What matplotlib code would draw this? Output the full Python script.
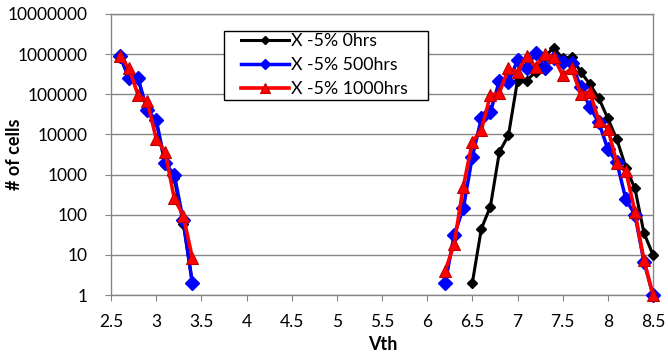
import numpy as np
import matplotlib

matplotlib.use("Agg")
import matplotlib.pyplot as plt
from matplotlib.patches import Rectangle
from matplotlib.ticker import FixedLocator, FixedFormatter, NullLocator

plt.rcParams["font.family"] = ["Lato", "DejaVu Sans"]

# Vth bins (two clusters, gap in between)
vth_left = [2.6, 2.7, 2.8, 2.9, 3.0, 3.1, 3.2, 3.3, 3.4]
vth_right = [6.2, 6.3, 6.4, 6.5, 6.6, 6.7, 6.8, 6.9, 7.0, 7.1, 7.2, 7.3,
             7.4, 7.5, 7.6, 7.7, 7.8, 7.9, 8.0, 8.1, 8.2, 8.3, 8.4, 8.5]
vth_right_0h = vth_right[3:]

# cell counts
cells_0h_left = [9e5, 2.4e5, 2.4e5, 3.8e4, 2.2e4, 1.7e3, 800, 60, 2]
cells_0h_right = [2, 45, 160, 3.7e3, 9.5e3, 2.2e5, 2.2e5, 3.6e5, 8.5e5,
                  1.45e6, 7.8e5, 8.5e5, 3.6e5, 1.8e5, 8e4, 2.5e4, 7.5e3,
                  1.5e3, 450, 35, 10]

cells_500h_left = [9e5, 2.5e5, 2.5e5, 4e4, 2.3e4, 1.9e3, 1e3, 72, 2]
cells_500h_right = [2, 32, 144, 2.8e3, 2.5e4, 3.6e4, 2.2e5, 2e5, 7e5, 4.4e5,
                    1.05e6, 4.6e5, 8e5, 6.5e5, 6e5, 1.5e5, 4.8e4, 2e4, 4.3e3,
                    2e3, 240, 100, 6.7, 1]

cells_1000h_left = [9e5, 4.4e5, 9.5e4, 6.8e4, 7.9e3, 3.6e3, 255, 95, 8.5]
cells_1000h_right = [4, 19, 500, 6.5e3, 1.3e4, 9.5e4, 1.1e5, 4.4e5, 3.6e5,
                     9e5, 4.8e5, 1e6, 8.5e5, 3e5, 4.4e5, 1e5, 1.15e5, 2.2e4,
                     1.4e4, 1.9e3, 1.2e3, 118, 7.4, 1]

labels = ["X -5% 0hrs", "X -5% 500hrs", "X -5% 1000hrs"]

x_ticks = [2.5, 3, 3.5, 4, 4.5, 5, 5.5, 6, 6.5, 7, 7.5, 8, 8.5]
y_ticks = [1, 10, 100, 1000, 10000, 100000, 1000000, 10000000]


def joined(xl, yl, xr, yr):
    # NaN break so the two clusters are not connected
    x = np.concatenate([xl, [np.nan], xr])
    y = np.concatenate([yl, [np.nan], yr])
    return x, y


W, H = 668, 359
fig = plt.figure(figsize=(W / 100, H / 100), dpi=100)
ax = fig.add_axes([111 / W, 64 / H, 542 / W, 281 / H])

grey = "#868686"
x0, y0 = joined(vth_left, cells_0h_left, vth_right_0h, cells_0h_right)
x1, y1 = joined(vth_left, cells_500h_left, vth_right, cells_500h_right)
x2, y2 = joined(vth_left, cells_1000h_left, vth_right, cells_1000h_right)

ax.plot(x0, y0, color="black", lw=2.2, marker="D", ms=5.5,
        label=labels[0], zorder=3, clip_on=False)
ax.plot(x1, y1, color="#0000FF", lw=2.5, marker="D", ms=6.8,
        label=labels[1], zorder=4, clip_on=False)
ax.plot(x2, y2, color="#FF0000", lw=2.6, marker="^", ms=8.5,
        mec="#C00000", mew=0.8, label=labels[2], zorder=5, clip_on=False)

ax.set_yscale("log")
ax.set_ylim(1, 1e7)
ax.set_xlim(2.5, 8.5)
ax.yaxis.set_major_locator(FixedLocator(y_ticks))
ax.yaxis.set_major_formatter(FixedFormatter([str(v) for v in y_ticks]))
ax.yaxis.set_minor_locator(NullLocator())
ax.xaxis.set_major_locator(FixedLocator(x_ticks))
ax.xaxis.set_major_formatter(FixedFormatter(["%g" % v for v in x_ticks]))

ax.grid(axis="y", color=grey, lw=1)
ax.set_axisbelow(True)
for s in ax.spines.values():
    s.set_color(grey)
    s.set_linewidth(1)
ax.tick_params(axis="both", direction="out", length=4, color=grey,
               labelsize=12.5, labelcolor="black")
ax.tick_params(axis="x", pad=10)
ax.tick_params(axis="y", pad=13)

fig.text(14 / W, 1 - 154 / H, "# of cells", rotation=90, ha="center",
         va="center", fontsize=13, fontweight="bold")
fig.text(383 / W, 1 - 345 / H, "Vth", ha="center", va="center",
         fontsize=13, fontweight="bold")

# legend box drawn separately so its padding can match the original
ax.add_patch(Rectangle((224 / W, 1 - 100 / H), 204 / W, 69 / H,
                       transform=fig.transFigure, facecolor="white",
                       edgecolor="black", lw=1, zorder=10, clip_on=False))
leg = ax.legend(loc="upper left", bbox_to_anchor=(241 / W, 1 - 33 / H),
                bbox_transform=fig.transFigure, fontsize=12.8,
                frameon=False, handlelength=2.7, handletextpad=0.1,
                borderpad=0, labelspacing=0.45, borderaxespad=0,
                markerscale=0.8)
leg.set_zorder(11)

fig.savefig("out.png", dpi=100)
